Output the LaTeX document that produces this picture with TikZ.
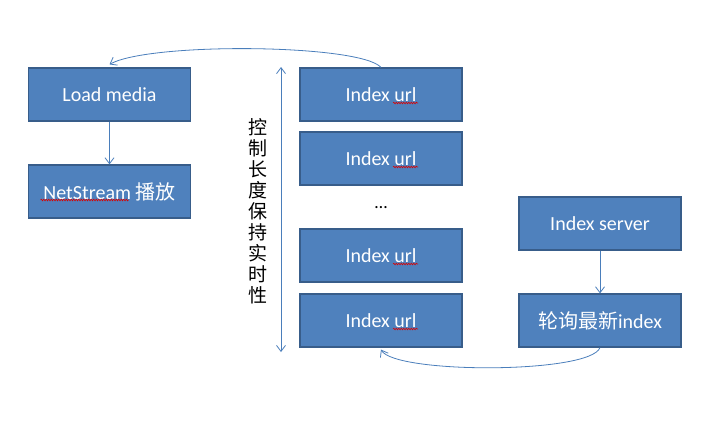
\documentclass[tikz,border=0pt]{standalone}
\usepackage{fontspec}
\setmainfont{Carlito}
\newfontfamily\cjk{Noto Sans CJK SC}
\usetikzlibrary{arrows.meta,decorations.pathmorphing}
\definecolor{boxfill}{HTML}{4F81BD}
\definecolor{boxline}{HTML}{385D8A}
\definecolor{arrowc}{HTML}{4A7EBB}
\tikzset{
  bluebox/.style={draw=boxline, line width=1.2pt, fill=boxfill, minimum width=162pt, minimum height=53pt, inner sep=0pt, text=white, font=\fontsize{20}{22}\selectfont},
  conn/.style={draw=arrowc, line width=0.8pt, -{Straight Barb[length=6pt,width=9pt]}},
  squig/.style={draw=red!85!black, line width=0.6pt, decorate, decoration={snake, amplitude=0.8pt, segment length=2.5pt}}
}
\begin{document}
\begin{tikzpicture}[x=1pt,y=-1pt]
\useasboundingbox (0,0) rectangle (719,421);
\node[bluebox] (load) at (109.5,94.5) {Load media};
\node[bluebox] (net) at (109.5,191.5) {NetStream {\cjk 播放}};
\node[bluebox] (u1) at (381,94.5) {Index url};
\node[bluebox] (u2) at (381,158.5) {Index url};
\node (dots) at (381,208) {\fontsize{18}{20}\selectfont\dots};
\node[bluebox] (u3) at (381,255.5) {Index url};
\node[bluebox] (u4) at (381,320.5) {Index url};
\node[bluebox] (srv) at (600,223.5) {Index server};
\node[bluebox] (poll) at (600,320.5) {{\cjk 轮询最新}index};
% spell-check squiggles
\foreach \n in {u1,u2,u3,u4}{
  \draw[squig] ([xshift=12pt,yshift=-8.5pt]\n.center) -- ([xshift=37pt,yshift=-8.5pt]\n.center);
}
\draw[squig] ([xshift=-69pt,yshift=-8.5pt]net.center) -- ([xshift=19pt,yshift=-8.5pt]net.center);
% connectors
\draw[conn] (load.south) -- (net.north);
\draw[conn] (srv.south) -- (poll.north);
\draw[conn] (u1.north) .. controls (360,44) and (150,42) .. ([yshift=3pt]load.north);
\draw[conn] (poll.south) .. controls (590,374) and (395,374) .. ([yshift=-2pt]u4.south);
\coordinate (vtop) at (281,67);
\coordinate (vbot) at (281,352);
\draw[draw=arrowc, line width=0.8pt, {Straight Barb[length=6pt,width=9pt]}-{Straight Barb[length=6pt,width=9pt]}] (vtop) -- (vbot);
\node[align=center, inner sep=0pt, font=\cjk\fontsize{19}{21}\selectfont] (vtext) at (258,211.5) {控\\制\\长\\度\\保\\持\\实\\时\\性};
\end{tikzpicture}
\end{document}
